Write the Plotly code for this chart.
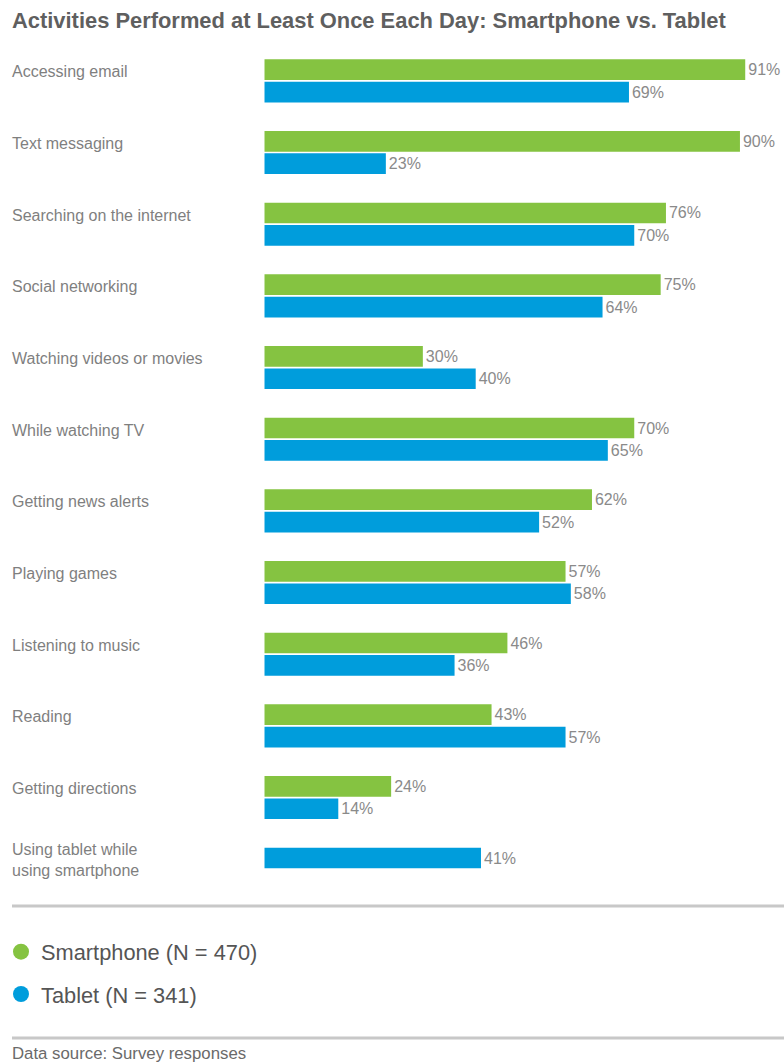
import plotly.graph_objects as go

W, H = 784, 1062

categories = [
    "Accessing email", "Text messaging", "Searching on the internet",
    "Social networking", "Watching videos or movies", "While watching TV",
    "Getting news alerts", "Playing games", "Listening to music", "Reading",
    "Getting directions", "Using tablet while<br>using smartphone",
]
smartphone = [91, 90, 76, 75, 30, 70, 62, 57, 46, 43, 24, None]
tablet = [69, 23, 70, 64, 40, 65, 52, 58, 36, 57, 14, 41]
series_names = ["Smartphone (N = 470)", "Tablet (N = 341)"]
colors = ["#85c341", "#009ddc"]

title = "Activities Performed at Least Once Each Day: Smartphone vs. Tablet"
source = "Data source: Survey responses"

def px_x(p):
    return p / W

def px_y(p):
    return 1 - p / H

# layout geometry (pixels)
plot_left, plot_top, plot_bottom = 264.3, 50, 900
pitch = 71.67          # px per category
first_center = 80.7    # px of first group's center
px_per_pct = 5.285

bar_w = 20.7 / pitch
green_off = -21.4 / pitch
blue_off = 1.0 / pitch

tablet_offsets = [green_off if s is None else blue_off for s in smartphone]

fig = go.Figure()
fig.add_trace(go.Bar(
    y=categories, x=smartphone, orientation="h", name=series_names[0],
    marker=dict(color=colors[0], line=dict(width=0)),
    width=bar_w, offset=green_off,
    texttemplate="%{x}%", textposition="outside", constraintext="none",
    textfont=dict(size=16, color="#8a8a8a", family="Liberation Sans, Arial"),
    cliponaxis=False, showlegend=False, hoverinfo="x+y",
))
fig.add_trace(go.Bar(
    y=categories, x=tablet, orientation="h", name=series_names[1],
    marker=dict(color=colors[1], line=dict(width=0)),
    width=bar_w, offset=tablet_offsets,
    texttemplate="%{x}%", textposition="outside", constraintext="none",
    textfont=dict(size=16, color="#8a8a8a", family="Liberation Sans, Arial"),
    cliponaxis=False, showlegend=False, hoverinfo="x+y",
))
# legend entries as circles
for name, c in zip(series_names, colors):
    fig.add_trace(go.Scatter(
        x=[None], y=[None], mode="markers", name=name, legendgroup=name,
        marker=dict(color=c, size=16, symbol="circle"),
    ))

y0 = -(first_center - plot_top) / pitch
y1 = (plot_bottom - first_center) / pitch

annotations = [
    dict(text=f"<b>{title}</b>", xref="paper", yref="paper",
         x=px_x(10), y=px_y(21), xanchor="left", yanchor="middle",
         showarrow=False, font=dict(size=21.9, color="#5f5f5f", family="Liberation Sans, Arial")),
    dict(text=source, xref="paper", yref="paper",
         x=px_x(10), y=px_y(1053), xanchor="left", yanchor="middle",
         showarrow=False, font=dict(size=16.8, color="#6a6a6a", family="Liberation Sans, Arial")),
]
for cat in categories:
    annotations.append(dict(
        text=cat, xref="paper", yref="y", x=px_x(10), y=cat, yshift=9,
        xanchor="left", yanchor="middle", align="left", showarrow=False,
        font=dict(size=16, color="#7f7f7f", family="Liberation Sans, Arial"),
    ))

shapes = [
    dict(type="line", xref="paper", yref="paper", x0=px_x(12), x1=1,
         y0=px_y(906), y1=px_y(906), line=dict(color="#c8c8c8", width=3)),
    dict(type="line", xref="paper", yref="paper", x0=px_x(12), x1=1,
         y0=px_y(1038), y1=px_y(1038), line=dict(color="#c8c8c8", width=3)),
]

fig.update_layout(
    width=W, height=H, margin=dict(l=0, r=0, t=0, b=0),
    paper_bgcolor="white", plot_bgcolor="white",
    barmode="overlay",
    xaxis=dict(domain=[px_x(plot_left), 1], range=[0, (W - plot_left) / px_per_pct],
               visible=False, fixedrange=True),
    yaxis=dict(domain=[px_y(plot_bottom), px_y(plot_top)], type="category",
               range=[y1, y0], visible=False, fixedrange=True),
    legend=dict(x=px_x(1), y=px_y(931), xanchor="left", yanchor="top",
                font=dict(size=21.8, color="#555555", family="Liberation Sans, Arial"),
                tracegroupgap=11, itemsizing="trace", bgcolor="rgba(0,0,0,0)"),
    showlegend=True,
    annotations=annotations, shapes=shapes,
    font=dict(family="Liberation Sans, Arial"),
)

fig.write_html("out.html")
